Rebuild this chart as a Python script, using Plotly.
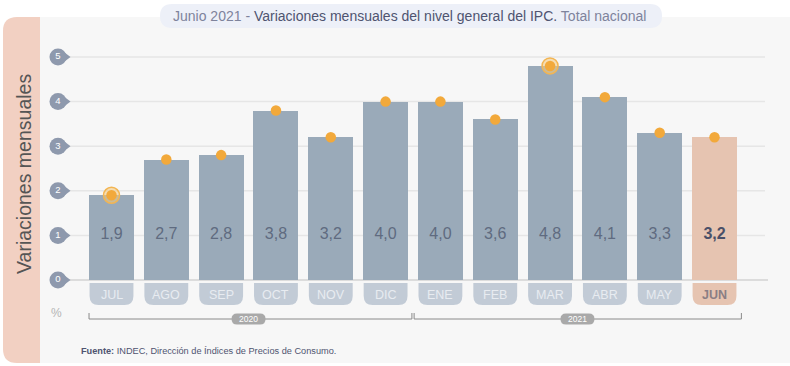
import plotly.graph_objects as go

# ---------------- data ----------------
months = ["JUL", "AGO", "SEP", "OCT", "NOV", "DIC", "ENE", "FEB", "MAR", "ABR", "MAY", "JUN"]
values = [1.9, 2.7, 2.8, 3.8, 3.2, 4.0, 4.0, 3.6, 4.8, 4.1, 3.3, 3.2]
value_labels = ["1,9", "2,7", "2,8", "3,8", "3,2", "4,0", "4,0", "3,6", "4,8", "4,1", "3,3", "3,2"]
y_ticks = [0, 1, 2, 3, 4, 5]
years = ["2020", "2021"]
year_first = [0, 6]
year_last = [5, 11]
highlight = [0, 8]          # min and max months (ringed dots)
current = 11                # current month (JUN)

# ---------------- geometry helpers (pixel -> data / paper) ----------------
W, H = 790, 366
X0, DX = 111.5, 54.82
Y0, DY = 280.0, 44.6

def xd(px):
    return (px - X0) / DX

def yd(py):
    return (Y0 - py) / DY

def xp(px):
    return px / W

def yp(py):
    return 1 - py / H

BAR = "#9AAAB9"
BAR_CUR = "#E6C4B1"
PILL = "#C2CBD6"
PILL_CUR = "#E6C4B1"
ORANGE = "#F2A93B"
TICKC = "#8E99AD"

fig = go.Figure()

shapes = []
# background panel
shapes.append(dict(type="rect", xref="paper", yref="paper", x0=xp(36), x1=xp(790),
                   y0=yp(363), y1=yp(17), fillcolor="#F7F7F7", line_width=0, layer="below"))
# left salmon panel with rounded left corners
r = 14
x0p, x1p, y0p, y1p = 3, 40, 17, 363
path = (f"M {xp(x1p)},{yp(y0p)} L {xp(x0p + r)},{yp(y0p)} "
        f"Q {xp(x0p)},{yp(y0p)} {xp(x0p)},{yp(y0p + r)} "
        f"L {xp(x0p)},{yp(y1p - r)} Q {xp(x0p)},{yp(y1p)} {xp(x0p + r)},{yp(y1p)} "
        f"L {xp(x1p)},{yp(y1p)} Z")
shapes.append(dict(type="path", xref="paper", yref="paper", path=path,
                   fillcolor="#F2D0C2", line_width=0, layer="below"))


def pill_path(cxp, cyp, w, h):
    """Stadium-shaped pill in paper coords, from pixel centre/size."""
    rr = h / 2
    x0, x1, y0, y1 = cxp - w / 2, cxp + w / 2, cyp - h / 2, cyp + h / 2
    return (f"M {xp(x0 + rr)},{yp(y0)} L {xp(x1 - rr)},{yp(y0)} "
            f"Q {xp(x1)},{yp(y0)} {xp(x1)},{yp(cyp)} "
            f"Q {xp(x1)},{yp(y1)} {xp(x1 - rr)},{yp(y1)} "
            f"L {xp(x0 + rr)},{yp(y1)} Q {xp(x0)},{yp(y1)} {xp(x0)},{yp(cyp)} "
            f"Q {xp(x0)},{yp(y0)} {xp(x0 + rr)},{yp(y0)} Z")


# title pill
shapes.append(dict(type="path", xref="paper", yref="paper", path=pill_path(411, 16, 502, 24),
                   fillcolor="#EDF0F8", line_width=0, layer="below"))

# gridlines
for t in y_ticks:
    if t == 0:
        shapes.append(dict(type="line", xref="x", yref="y", x0=xd(66), x1=xd(768), y0=0, y1=0,
                           line=dict(color="#DCDCDC", width=2), layer="below"))
    else:
        shapes.append(dict(type="line", xref="x", yref="y", x0=xd(66), x1=xd(765), y0=t, y1=t,
                           line=dict(color="#E6E6E6", width=1.5), layer="below"))

# month pills (rounded bottom)
hw = 0.40
rx, ry = 9 / DX, 9 / DY
pt, pb = yd(283), yd(305)
for i, m in enumerate(months):
    a, b = i - hw, i + hw
    p = (f"M {a},{pt} L {b},{pt} L {b},{pb + ry} Q {b},{pb} {b - rx},{pb} "
         f"L {a + rx},{pb} Q {a},{pb} {a},{pb + ry} Z")
    shapes.append(dict(type="path", xref="x", yref="y", path=p,
                       fillcolor=PILL_CUR if i == current else PILL, line_width=0))

# year brackets
for k in range(len(years)):
    a = year_first[k] - 0.41 if k == 0 else year_first[k] - 0.48
    b = year_last[k] + 0.48 if k == 0 else year_last[k] + 0.49
    yl, yt = yd(319), yd(313)
    shapes.append(dict(type="path", xref="x", yref="y",
                       path=f"M {a},{yt} L {a},{yl} L {b},{yl} L {b},{yt}",
                       line=dict(color="#8A8A8A", width=1)))

annotations = []
# year labels with pill background
for k, yr in enumerate(years):
    cx = (year_first[k] + year_last[k]) / 2
    cpx = X0 + cx * DX
    shapes.append(dict(type="path", xref="paper", yref="paper", path=pill_path(cpx, 319, 34, 11),
                       fillcolor="#A9A9A9", line_width=0))
    annotations.append(dict(x=cx, y=yd(319), xref="x", yref="y", text=yr, showarrow=False,
                            xanchor="center", yanchor="middle",
                            font=dict(family="Liberation Sans, Arial", size=8.5, color="white")))
# month labels
for i, m in enumerate(months):
    annotations.append(dict(x=i, y=yd(295), xref="x", yref="y", showarrow=False,
                            xanchor="center", yanchor="middle",
                            text=f"<b>{m}</b>" if i == current else m,
                            font=dict(family="Liberation Sans, Arial", size=12.5,
                                      color="#8A7E84" if i == current else "#E8ECF1")))
# title
annotations.append(dict(x=xp(409), y=yp(16), xref="paper", yref="paper", showarrow=False,
                        xanchor="center", yanchor="middle",
                        text="Junio 2021 - <span style='color:#4F5470'>Variaciones mensuales del nivel general del IPC.</span> Total nacional",
                        font=dict(family="Liberation Sans, Arial", size=14, color="#7E839C")))
# vertical axis title
annotations.append(dict(x=xp(24), y=yp(174), xref="paper", yref="paper", showarrow=False,
                        xanchor="center", yanchor="middle",
                        text="Variaciones mensuales", textangle=-90,
                        font=dict(family="Liberation Sans, Arial", size=19.5, color="#555555")))
# percent sign
annotations.append(dict(x=xp(56), y=yp(313), xref="paper", yref="paper", showarrow=False,
                        xanchor="center", yanchor="middle",
                        text="%", font=dict(family="Liberation Sans, Arial", size=12, color="#B5B5B5")))
# source
annotations.append(dict(x=xp(79), y=yp(351), xref="paper", yref="paper", showarrow=False,
                        xanchor="left", yanchor="middle",
                        text="<b>Fuente:</b> INDEC, Dirección de Índices de Precios de Consumo.",
                        font=dict(family="Liberation Sans, Arial", size=9.2, color="#4F5470")))

# bars
fig.add_trace(go.Bar(x=list(range(len(months))), y=values, width=0.82,
                     marker=dict(color=[BAR_CUR if i == current else BAR for i in range(len(months))],
                                 line_width=0),
                     hoverinfo="skip"))
# value labels inside bars
fig.add_trace(go.Scatter(x=list(range(len(months))), y=[1] * len(months), mode="text",
                         text=[f"<b>{v}</b>" if i == current else v for i, v in enumerate(value_labels)],
                         textfont=dict(family="Liberation Sans, Arial", size=16,
                                       color=["#4A5068" if i == current else "#5F6B80" for i in range(len(months))]),
                         hoverinfo="skip"))
# ring highlights
fig.add_trace(go.Scatter(x=highlight, y=[values[i] for i in highlight], mode="markers",
                         marker=dict(size=16, color="rgba(245,200,120,0.55)",
                                     line=dict(color="#F3B552", width=1.5)),
                         hoverinfo="skip"))
# dots
fig.add_trace(go.Scatter(x=list(range(len(months))), y=values, mode="markers",
                         marker=dict(size=10.5, color=ORANGE), hoverinfo="skip"))
# y tick markers (drop shapes)
tx = [xd(58)] * len(y_ticks)
fig.add_trace(go.Scatter(x=[xd(65)] * len(y_ticks), y=y_ticks, mode="markers",
                         marker=dict(symbol="triangle-right", size=11, color=TICKC),
                         hoverinfo="skip"))
fig.add_trace(go.Scatter(x=tx, y=y_ticks, mode="markers+text", text=[str(t) for t in y_ticks],
                         textposition="middle center",
                         marker=dict(size=17, color=TICKC),
                         textfont=dict(family="Liberation Sans, Arial", size=9.5, color="white"),
                         hoverinfo="skip"))

fig.update_layout(
    width=W, height=H, margin=dict(l=0, r=0, t=0, b=0),
    paper_bgcolor="white", plot_bgcolor="rgba(0,0,0,0)",
    showlegend=False, shapes=shapes, annotations=annotations,
    xaxis=dict(range=[xd(0), xd(W)], visible=False, fixedrange=True),
    yaxis=dict(range=[yd(H), yd(0)], visible=False, fixedrange=True),
    bargap=0,
)

fig.write_html("out.html", config={"displayModeBar": False},
               post_script="document.body.style.margin='0';document.body.style.overflow='hidden';")
